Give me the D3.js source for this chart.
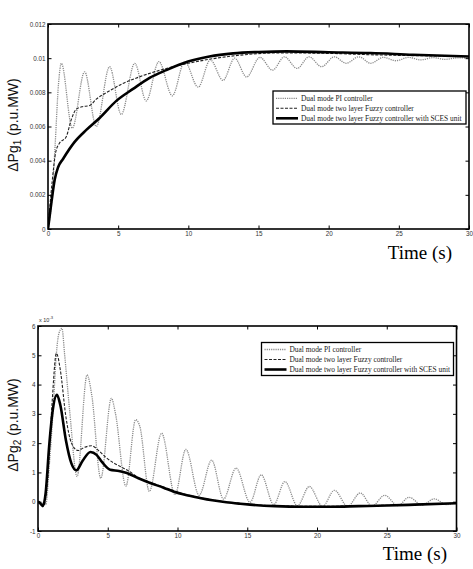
<!DOCTYPE html>
<html>
<head>
<meta charset="utf-8">
<script src="https://cdn.jsdelivr.net/npm/d3@7"></script>
<style>
  body { margin: 0; background: #fff; }
  svg { display: block; }
</style>
</head>
<body>
<svg id="chart" width="473" height="569"></svg>
<script>
// ---------------- DATA ----------------
const seriesNames = [
  "Dual mode PI controller",
  "Dual mode two layer Fuzzy controller",
  "Dual mode two layer Fuzzy controller with SCES unit"
];
const xTicks = [0, 5, 10, 15, 20, 25, 30];
const xTickLabels = ["0", "5", "10", "15", "20", "25", "30"];

// Top chart: ΔPg1
const y1Ticks = [0, 0.002, 0.004, 0.006, 0.008, 0.01, 0.012];
const y1TickLabels = ["0", "0.002", "0.004", "0.006", "0.008", "0.01", "0.012"];
const pi1T = [0, 0.25, 0.5, 0.75, 0.95, 1.73, 2.61, 3.44, 4.39, 5.22, 6.18, 7.0, 7.9, 8.86, 9.74, 10.7, 11.57, 12.47, 13.3, 14.15, 15.1, 16.0, 16.85, 17.75, 18.6, 19.5, 20.4, 21.25, 22.15, 23.0, 23.9, 24.8, 25.7, 26.55, 27.45, 28.3, 29.2, 30];
const pi1V = [0, 0.0015, 0.0048, 0.0085, 0.0097, 0.0059, 0.0092, 0.0060, 0.0095, 0.0067, 0.0097, 0.0075, 0.0098, 0.0078, 0.0098, 0.0083, 0.0099, 0.0087, 0.0100, 0.0089, 0.01005, 0.0093, 0.01008, 0.0094, 0.01008, 0.0095, 0.01008, 0.0097, 0.01008, 0.0097, 0.01005, 0.00985, 0.01005, 0.0099, 0.01003, 0.00993, 0.01002, 0.0100];
const fz1T = [0, 0.3, 0.55, 0.8, 1.3, 1.66, 2.0, 2.4, 2.97, 3.44, 4.2, 5.3, 6.5, 8.0, 10.0, 12.0, 14.0, 16.0, 18.0, 20.0, 23.0, 26.0, 30];
const fz1V = [0, 0.0028, 0.0045, 0.0050, 0.0054, 0.0064, 0.0070, 0.00715, 0.00723, 0.0076, 0.0080, 0.0085, 0.0089, 0.0093, 0.0097, 0.0100, 0.0102, 0.0103, 0.0103, 0.01028, 0.0102, 0.01015, 0.0101];
const sc1T = [0, 0.25, 0.48, 0.71, 1.07, 1.9, 2.73, 3.68, 4.87, 6.06, 7.24, 8.43, 9.98, 11.5, 13.2, 15.0, 17.0, 20.0, 23.0, 26.0, 30];
const sc1V = [0, 0.0016, 0.0029, 0.0036, 0.0041, 0.0051, 0.0058, 0.0065, 0.0075, 0.0082, 0.00885, 0.0093, 0.0098, 0.0101, 0.01028, 0.01036, 0.0104, 0.01035, 0.0103, 0.0102, 0.0101];

// Bottom chart: ΔPg2 (x 10^-3)
const y2Ticks = [-1, 0, 1, 2, 3, 4, 5, 6];
const y2TickLabels = ["-1", "0", "1", "2", "3", "4", "5", "6"];
const pi2T = [0, 0.3, 0.55, 0.84, 1.08, 1.32, 1.5, 1.72, 1.9, 2.27, 2.8, 3.52, 3.85, 4.5, 5.26, 5.55, 6.3, 7.0, 7.3, 7.98, 8.86, 9.82, 10.6, 11.55, 12.45, 13.3, 14.2, 15.2, 16.0, 16.9, 17.7, 18.6, 19.45, 20.4, 21.25, 22.2, 23.1, 23.95, 24.85, 25.8, 26.6, 27.55, 28.4, 29.3, 30];
const pi2V = [0, -0.05, -0.1, 1.43, 3.1, 5.07, 5.75, 5.92, 5.07, 3.1, 0.86, 4.33, 3.65, 0.8, 3.53, 3.02, 0.53, 2.8, 2.57, 0.35, 2.34, 0.24, 1.79, 0.22, 1.42, 0.09, 1.15, -0.02, 0.92, -0.1, 0.69, -0.14, 0.52, -0.16, 0.39, -0.16, 0.3, -0.15, 0.22, -0.13, 0.15, -0.12, 0.1, -0.1, 0.0];
const fz2T = [0, 0.2, 0.4, 0.7, 1.0, 1.32, 1.6, 2.0, 2.4, 2.87, 3.3, 3.83, 4.45, 4.9, 5.9, 6.5, 7.2, 8.04, 9.0, 10.0, 11.6, 13.5, 15.0, 17.0, 20.0, 23.0, 26.0, 30];
const fz2V = [0, -0.05, -0.15, 0.8, 3.3, 5.07, 4.5, 2.9, 2.0, 1.75, 1.85, 1.91, 1.7, 1.5, 1.2, 1.05, 0.82, 0.66, 0.5, 0.33, 0.14, -0.01, -0.08, -0.14, -0.16, -0.14, -0.11, -0.05];
const sc2T = [0, 0.15, 0.35, 0.55, 0.8, 1.05, 1.36, 1.6, 2.0, 2.4, 2.75, 3.2, 3.76, 4.2, 4.6, 5.17, 5.8, 6.37, 7.2, 8.04, 9.0, 9.7, 10.6, 11.6, 12.5, 13.5, 14.5, 15.2, 17.0, 19.0, 21.0, 23.0, 25.0, 27.0, 30];
const sc2V = [0, -0.05, -0.15, 0.3, 1.9, 3.1, 3.65, 3.3, 2.1, 1.3, 1.07, 1.4, 1.7, 1.6, 1.35, 1.09, 1.05, 0.98, 0.8, 0.64, 0.48, 0.35, 0.23, 0.13, 0.05, -0.02, -0.07, -0.1, -0.15, -0.17, -0.17, -0.15, -0.13, -0.1, -0.05];

// ---------------- DRAW ----------------
const svg = d3.select("#chart");
svg.append("rect").attr("width", 473).attr("height", 569).attr("fill", "#fff");

const styles = [
  { stroke: "#8a8a8a", width: 1.3, dash: "1.2,1" },
  { stroke: "#222", width: 1.1, dash: "3,1.5" },
  { stroke: "#000", width: 2.6, dash: null }
];

function zip(t, v) { return t.map((d, i) => [d, v[i]]); }

function panel(cfg) {
  const x = d3.scaleLinear().domain([0, 30]).range([cfg.left, cfg.right]);
  const y = d3.scaleLinear().domain(cfg.yDomain).range([cfg.bottom, cfg.top]);
  const g = svg.append("g");

  const clipId = "clip" + cfg.id;
  g.append("clipPath").attr("id", clipId).append("rect")
    .attr("x", cfg.left).attr("y", cfg.top)
    .attr("width", cfg.right - cfg.left).attr("height", cfg.bottom - cfg.top);

  const line = d3.line().x(d => x(d[0])).y(d => y(d[1])).curve(d3.curveMonotoneX);
  const lg = g.append("g").attr("clip-path", `url(#${clipId})`);
  cfg.series.forEach((s, i) => {
    lg.append("path").datum(s).attr("d", line)
      .attr("fill", "none")
      .attr("stroke", styles[i].stroke)
      .attr("stroke-width", styles[i].width)
      .attr("stroke-dasharray", styles[i].dash)
      .attr("stroke-linejoin", "round");
  });

  const fmtX = (d) => xTickLabels[xTicks.indexOf(d)];
  const fmtY = (d) => cfg.yLabels[cfg.yTicks.indexOf(d)];
  const tickStyle = sel => {
    sel.select(".domain").remove();
    sel.selectAll(".tick line").attr("stroke", "#000").attr("stroke-width", 1);
    sel.selectAll(".tick text").attr("font-family", "Liberation Sans, Arial, sans-serif")
      .attr("font-size", 6.3).attr("fill", "#333");
  };
  g.append("g").attr("transform", `translate(0,${cfg.bottom})`)
    .call(d3.axisBottom(x).tickValues(xTicks).tickFormat(fmtX).tickSize(-3.5).tickPadding(3))
    .call(tickStyle);
  g.append("g").attr("transform", `translate(0,${cfg.top})`)
    .call(d3.axisTop(x).tickValues(xTicks).tickFormat("").tickSize(-3.5))
    .call(tickStyle);
  g.append("g").attr("transform", `translate(${cfg.left},0)`)
    .call(d3.axisLeft(y).tickValues(cfg.yTicks).tickFormat(fmtY).tickSize(-3.5).tickPadding(2.5))
    .call(tickStyle);
  g.append("g").attr("transform", `translate(${cfg.right},0)`)
    .call(d3.axisRight(y).tickValues(cfg.yTicks).tickFormat("").tickSize(-3.5))
    .call(tickStyle);

  g.append("rect").attr("x", cfg.left).attr("y", cfg.top)
    .attr("width", cfg.right - cfg.left).attr("height", cfg.bottom - cfg.top)
    .attr("fill", "none").attr("stroke", "#000").attr("stroke-width", 1.6);

  // legend
  const L = cfg.legend;
  g.append("rect").attr("x", L.x).attr("y", L.y).attr("width", L.w).attr("height", L.h)
    .attr("fill", "#fff").attr("stroke", "#000").attr("stroke-width", 1.3);
  seriesNames.forEach((name, i) => {
    const yy = L.y + L.row0 + i * L.dy;
    g.append("line").attr("x1", L.x + 3).attr("x2", L.x + 25).attr("y1", yy).attr("y2", yy)
      .attr("stroke", styles[i].stroke).attr("stroke-width", styles[i].width)
      .attr("stroke-dasharray", styles[i].dash);
    g.append("text").attr("x", L.x + 28).attr("y", yy + 2.4)
      .attr("font-family", "Liberation Serif, Times New Roman, serif")
      .attr("font-size", 7.4).attr("fill", "#222").text(name);
  });

  // y label
  const yl = g.append("text")
    .attr("transform", `translate(${cfg.yLabelX},${cfg.yLabelY}) rotate(-90)`)
    .attr("text-anchor", "middle")
    .attr("font-family", "Liberation Sans, Arial, sans-serif")
    .attr("font-size", 14).attr("fill", "#111");
  yl.append("tspan").text("ΔPg");
  yl.append("tspan").attr("font-size", 10).attr("dy", 3).text(cfg.sub);
  yl.append("tspan").attr("dy", -3).text(" (p.u.MW)");

  // x label
  g.append("text").attr("x", cfg.xLabelX).attr("y", cfg.xLabelY)
    .attr("text-anchor", "end")
    .attr("font-family", "Liberation Serif, Times New Roman, serif")
    .attr("font-size", 19).attr("fill", "#000").text("Time (s)");
  return { x, y, g };
}

panel({
  id: 1, left: 48, right: 469, top: 24, bottom: 229,
  yDomain: [0, 0.012], yTicks: y1Ticks, yLabels: y1TickLabels,
  series: [zip(pi1T, pi1V), zip(fz1T, fz1V), zip(sc1T, sc1V)],
  legend: { x: 273, y: 91, w: 193, h: 33, row0: 7.3, dy: 10 },
  sub: "1", yLabelX: 18, yLabelY: 125, xLabelX: 452, xLabelY: 259
});

const p2 = panel({
  id: 2, left: 38, right: 456.5, top: 326, bottom: 531,
  yDomain: [-1, 6], yTicks: y2Ticks, yLabels: y2TickLabels,
  series: [zip(pi2T, pi2V), zip(fz2T, fz2V), zip(sc2T, sc2V)],
  legend: { x: 261.5, y: 342.5, w: 192, h: 33, row0: 7, dy: 10 },
  sub: "2", yLabelX: 18, yLabelY: 425, xLabelX: 447, xLabelY: 560
});

// multiplier label
const mt = p2.g.append("text").attr("x", 39).attr("y", 322)
  .attr("font-family", "Liberation Sans, Arial, sans-serif")
  .attr("font-size", 5.5).attr("fill", "#333");
mt.append("tspan").text("x 10");
mt.append("tspan").attr("font-size", 4.2).attr("dy", -3).text("-3");
</script>
</body>
</html>
